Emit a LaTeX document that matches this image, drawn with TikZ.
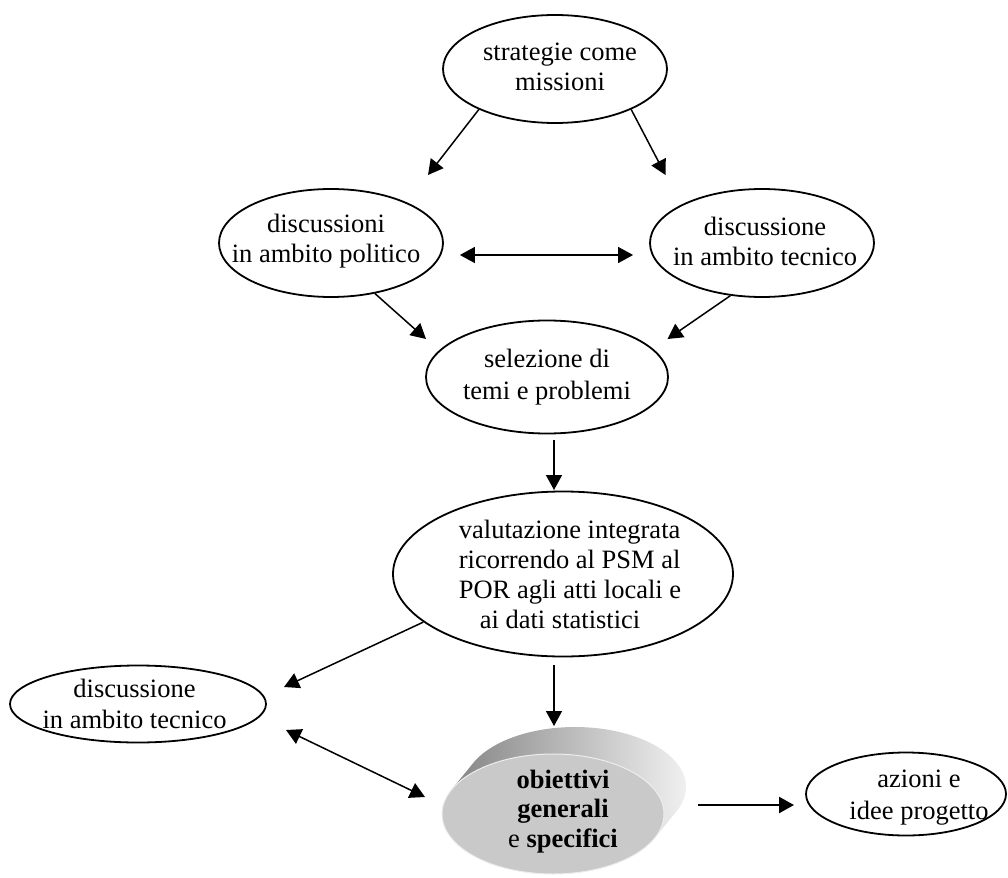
\documentclass[tikz,border=0pt]{standalone}
\usepackage{fontspec}
\setmainfont{Liberation Serif}
\usetikzlibrary{arrows.meta,shapes.geometric}
\tikzset{
 oval/.style={ellipse, draw, line width=1.8pt, inner sep=0pt},
 txt/.style={font=\fontsize{26.5}{30}\selectfont, align=center, inner sep=0pt},
 arr/.style={line width=1.5pt, -{Triangle[length=15pt,width=16pt]}},
 darr/.style={line width=1.5pt, {Triangle[length=15pt,width=16pt]}-{Triangle[length=15pt,width=16pt]}},
}
\begin{document}
\begin{tikzpicture}[x=1pt,y=-1pt]
\useasboundingbox (0,0) rectangle (1008,877);

% nodes
\node[oval, minimum width=224pt, minimum height=108pt,
  label={[name=e1t,txt,xshift=5pt,yshift=2pt]center:strategie come\\missioni}] (e1) at (555,69) {};
\node[oval, minimum width=224pt, minimum height=108pt,
  label={[name=e2t,txt,xshift=-5pt,yshift=2pt]center:discussioni\\in ambito politico}] (e2) at (331,243) {};
\node[oval, minimum width=224pt, minimum height=108pt,
  label={[name=e3t,txt,xshift=3pt,yshift=2pt]center:discussione\\in ambito tecnico}] (e3) at (762,243) {};
\node[oval, minimum width=242pt, minimum height=113pt,
  label={[name=e4t,txt,font=\fontsize{26.5}{32}\selectfont]center:selezione di\\temi e problemi}] (e4) at (547,377) {};
\node[oval, minimum width=340pt, minimum height=165pt,
  label={[name=e5t,txt,align=left,xshift=7pt]center:valutazione integrata\\ricorrendo al PSM al\\POR agli atti locali e\\\hspace*{21pt}ai dati statistici}] (e5) at (563,574) {};
\node[oval, minimum width=256pt, minimum height=77pt,
  label={[name=e6t,txt,font=\fontsize{26.5}{31}\selectfont,xshift=-3.5pt]center:discussione\\in ambito tecnico}] (e6) at (138,704) {};
\node[oval, minimum width=200pt, minimum height=83pt,
  label={[name=e7t,txt,font=\fontsize{26.5}{32}\selectfont,xshift=13pt,yshift=-4pt]center:azioni e\\idee progetto}] (e7) at (906,794) {};

% cylinder-like 3D shape
\shade[left color=black!48, right color=black!6]
  (575,787) ellipse [x radius=111, y radius=60]
  (451.4,789.8) -- (473.4,762.8) -- (676.6,811.2) -- (654.6,838.2) -- cycle;
\node[ellipse, minimum width=222pt, minimum height=120pt, inner sep=0pt,
  fill=black!21, draw=black!7, line width=1pt,
  label={[name=objt,txt,font=\fontsize{26.5}{29.5}\selectfont,xshift=10pt,yshift=2.5pt]center:\textbf{obiettivi}\\\textbf{generali}\\e \textbf{specifici}}] (obj) at (553,814) {};

% arrow end points
\coordinate (c12) at (428,175);
\coordinate (c13) at (665.5,175);
\coordinate (c24) at (426,339);
\coordinate (c34) at (667.5,339);
\coordinate (c45) at (554,490);
\coordinate (c56) at (284,687);
\coordinate (c5o) at (554,726);
\coordinate (c6s) at (286,730);
\coordinate (c6e) at (425,797);
\coordinate (co1) at (698,805);
\coordinate (co2) at (794,805);

% connectors
\draw[arr] (e1.208) -- (c12);
\draw[arr] (e1.332) -- (c13);
\draw[darr, shorten <=16pt, shorten >=16pt] ([yshift=-12pt]e2.east) -- ([yshift=-12pt]e3.west);
\draw[arr] (e2.311) -- (c24);
\draw[arr] (e3.239) -- (c34);
\draw[arr, shorten <=6pt] (e4.south -| c45) -- (c45);
\draw[arr] (e5.199) -- (c56);
\draw[arr, shorten <=8pt] (e5.south -| c5o) -- (c5o);
\draw[darr] (c6s) -- (c6e);
\draw[arr, line width=2.4pt] (co1) -- (co2);
\end{tikzpicture}
\end{document}
